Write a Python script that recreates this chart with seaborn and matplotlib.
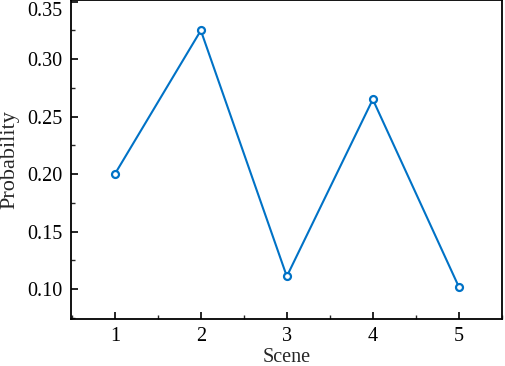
import seaborn as sns
import matplotlib.pyplot as plt
from matplotlib.ticker import MultipleLocator

scene = [1, 2, 3, 4, 5]
probability = [0.200, 0.325, 0.111, 0.265, 0.102]

sns.set_theme(style="white")
plt.rcParams['font.family'] = ['Liberation Serif', 'DejaVu Serif']

fig = plt.figure(figsize=(5.05, 3.66), dpi=100)
ax = fig.add_axes([0.1406, 0.1284, 0.853, 0.871])

sns.lineplot(x=scene, y=probability, ax=ax, color="#0072c6", linewidth=1.5,
             marker="o", markersize=5, markerfacecolor="white",
             markeredgecolor="#0072c6", markeredgewidth=1.6)

ax.set_xlim(0.49, 5.5)
ax.set_ylim(0.0739, 0.3513)
ax.xaxis.set_major_locator(MultipleLocator(1))
ax.xaxis.set_minor_locator(MultipleLocator(0.5))
ax.yaxis.set_major_locator(MultipleLocator(0.05))
ax.yaxis.set_minor_locator(MultipleLocator(0.025))
ax.yaxis.set_major_formatter(plt.FuncFormatter(lambda v, p: f"{v:.2f}"))

ax.tick_params(which="major", direction="in", length=5, width=1.2, labelsize=14.5,
               left=True, bottom=True, colors="black", pad=6)
ax.tick_params(which="minor", direction="in", length=3, width=1.0,
               left=True, bottom=True)
for s in ax.spines.values():
    s.set_color("black")
    s.set_linewidth(1.3)

ax.set_xlabel("Scene", fontsize=14.5, labelpad=1)
ax.set_ylabel("Probability", fontsize=16, labelpad=6)

# keep the top tick label inside the figure
fig.canvas.draw()
for lab in ax.get_yticklabels():
    if lab.get_text() == "0.35":
        lab.set_va("top")

fig.savefig("out.png", dpi=100)
